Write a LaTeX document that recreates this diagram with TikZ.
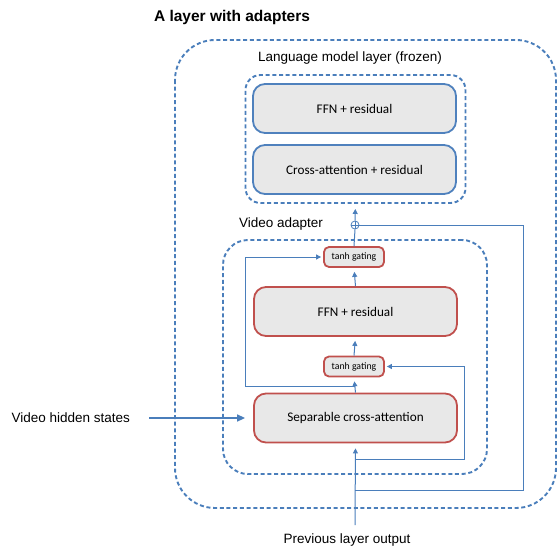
\documentclass[tikz,border=0pt]{standalone}
\usepackage{fontspec}
\setmainfont{Liberation Sans}
\newfontfamily\boxfont{Carlito}
\usepackage{xcolor}
\usepackage{tikz}
\usetikzlibrary{arrows.meta, positioning}

\definecolor{lineblue}{HTML}{4A7EBB}
\definecolor{frameblue}{HTML}{4F81BD}
\definecolor{boxred}{HTML}{C0504D}
\definecolor{boxgray}{HTML}{E8E8E8}

\tikzset{
  dashbox/.style={draw=lineblue, line width=1.9pt, dash pattern=on 4pt off 2.7pt},
  lmbox/.style={draw=frameblue, line width=1.8pt, fill=boxgray, rounded corners=12pt,
    minimum width=203pt, minimum height=49pt, font=\boxfont\fontsize{13.2}{15}\selectfont},
  adbox/.style={draw=boxred, line width=1.8pt, fill=boxgray, rounded corners=12pt,
    minimum width=203pt, minimum height=49pt, font=\boxfont\fontsize{13.2}{15}\selectfont},
  gatebox/.style={draw=boxred, line width=1.8pt, fill=boxgray, rounded corners=5pt,
    minimum width=60pt, minimum height=20pt, inner sep=0pt, font=\boxfont\fontsize{9.8}{11}\selectfont},
  conn/.style={draw=lineblue, line width=1pt},
  arr/.style={conn, -{Triangle[length=5pt, width=5pt]}},
  label/.style={font=\fontsize{13.5}{16}\selectfont}
}

\begin{document}
\begin{tikzpicture}[x=1pt, y=-1pt]
\useasboundingbox (0,0) rectangle (558,546);

% Título do diagrama:
\node[font=\bfseries\fontsize{15.5}{18}\selectfont] (title) at (232,17) {A layer with adapters};

% Caixa externa tracejada (camada inteira):
\draw[dashbox, rounded corners=40pt] (175,40) rectangle (556,508);

% Camada do modelo de linguagem (congelada):
\node[label] (lmlabel) at (350,58) {Language model layer (frozen)};
\node[dashbox, rounded corners=15pt, minimum width=220pt, minimum height=128pt] (lmlayer) at (355.5,139) {};
\node[lmbox] (lmffn) at (354.5,108.5) {FFN + residual};
\node[lmbox] (lmxattn) at (354.5,169.5) {Cross-attention + residual};

% Adaptador de vídeo:
\node[label] (adlabel) at (281,224) {Video adapter};
\node[dashbox, rounded corners=25pt, minimum width=264pt, minimum height=234pt] (adapter) at (355,357) {};
\node[gatebox] (tanhtop) at (354,257) {tanh gating};
\node[adbox] (adffn) at (355.5,311.5) {FFN + residual};
\node[gatebox] (tanhlow) at (354,366.5) {tanh gating};
\node[adbox] (sepattn) at (355.5,418) {Separable cross-attention};

% Soma residual (o círculo com +):
\node[circle, draw=lineblue, line width=0.8pt, inner sep=0pt, minimum size=8pt] (plus) at (355,225) {};
\draw[conn, line width=0.8pt] (plus.west) -- (plus.east) (plus.north) -- (plus.south);

% Entradas:
\node[label, anchor=west] (vhs) at (8,418) {Video hidden states};
\node[label] (prev) at (347,540) {Previous layer output};
\coordinate (prevstart) at (355,525);
\draw[arr, line width=1.5pt, -{Triangle[length=8pt, width=7pt]}, shorten >=8pt]
  ([xshift=16pt]vhs.east) -- (sepattn.west);
\draw[arr, shorten >=5pt] (prevstart) -- (sepattn.south);

% Fluxo principal dentro do adaptador:
\draw[arr, shorten >=4pt] (sepattn.north) -- (tanhlow.south);
\draw[arr, shorten >=4pt] (tanhlow.north) -- (adffn.south);
\draw[arr, shorten >=4pt] (adffn.north) -- (tanhtop.south);
\draw[conn] (tanhtop.north) -- (plus.south);
\draw[arr, shorten >=5pt] (plus.north) -- (lmlayer.south);

% Conexões de atalho (skip):
\coordinate (splitL) at (355,386);
\coordinate (cornerL) at (245,386);
\draw[arr, shorten >=2pt] (splitL) -- (cornerL) |- (tanhtop.west);

\coordinate (splitR) at (355,459);
\coordinate (cornerR) at (464,459);
\draw[arr, shorten >=2pt] (splitR) -- (cornerR) |- (tanhlow.east);

\coordinate (splitO) at (355,490);
\coordinate (cornerO) at (523,490);
\draw[conn] (splitO) -- (cornerO) |- (plus.east);
\end{tikzpicture}
\end{document}
